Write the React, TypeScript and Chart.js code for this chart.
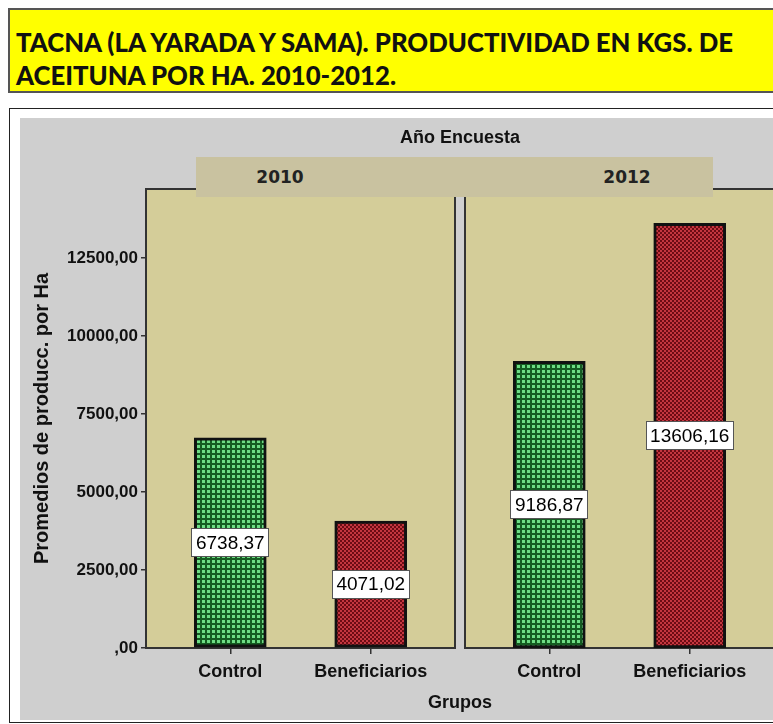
import React, { useEffect, useLayoutEffect, useRef } from 'react';
import { Chart, registerables } from 'chart.js';

Chart.register(...registerables);

// ---------------- data ----------------
const groups = ['Control', 'Beneficiarios'];
const years = ['2010', '2012'];
const values2010 = [6738.37, 4071.02];
const values2012 = [9186.87, 13606.16];
const yTicks = [0, 2500, 5000, 7500, 10000, 12500];
const yMax = 14710;
const titleLines = ['TACNA (LA YARADA Y SAMA). PRODUCTIVIDAD EN KGS. DE', 'ACEITUNA POR HA. 2010-2012.'];
const facetTitle = 'Año Encuesta';
const xTitle = 'Grupos';
const yTitle = 'Promedios de producc. por Ha';

// ---------------- styles ----------------
const PANEL_FILL = '#d4cd99';
const STRIP_FILL = '#c9c2a0';
const BG_GRAY = '#cfcfcf';
const AXIS_COLOR = '#333333';
const SANS = '"Liberation Sans", Arial, sans-serif';

const fmt = (v: number) => (v === 0 ? ',00' : v.toFixed(2).replace('.', ','));

function greenPattern(size: number, line: number) {
  const c = document.createElement('canvas');
  c.width = size;
  c.height = size;
  const g = c.getContext('2d')!;
  g.fillStyle = '#6edc84';
  g.fillRect(0, 0, size, size);
  g.fillStyle = '#155c22';
  g.fillRect(0, 0, size, line);
  g.fillRect(0, 0, line, size);
  return g.createPattern(c, 'repeat')!;
}

function redPattern() {
  const c = document.createElement('canvas');
  c.width = 4;
  c.height = 4;
  const g = c.getContext('2d')!;
  g.fillStyle = '#6c0c14';
  g.fillRect(0, 0, 4, 4);
  g.fillStyle = '#c4363f';
  g.fillRect(0, 0, 2, 2);
  g.fillRect(2, 2, 2, 2);
  return g.createPattern(c, 'repeat')!;
}

const panelPlugin = {
  id: 'panelBg',
  beforeDraw(chart: any) {
    const { ctx, chartArea: a } = chart;
    ctx.save();
    ctx.fillStyle = PANEL_FILL;
    ctx.fillRect(a.left, a.top, a.right - a.left, a.bottom - a.top);
    ctx.restore();
  },
  beforeDatasetsDraw(chart: any) {
    const { ctx, chartArea: a } = chart;
    ctx.save();
    ctx.strokeStyle = AXIS_COLOR;
    ctx.lineWidth = 2;
    ctx.strokeRect(a.left, a.top, a.right - a.left, a.bottom - a.top);
    ctx.restore();
  },
};

const valueBoxPlugin = {
  id: 'valueBoxes',
  afterDatasetsDraw(chart: any) {
    const { ctx } = chart;
    const meta = chart.getDatasetMeta(0);
    const data = chart.data.datasets[0].data as { x: number; y: number }[];
    ctx.save();
    ctx.font = `19px ${SANS}`;
    ctx.textAlign = 'center';
    ctx.textBaseline = 'middle';
    meta.data.forEach((el: any, i: number) => {
      const { x, y, base } = el.getProps(['x', 'y', 'base'], true);
      const cy = (y + base) / 2;
      const text = fmt(data[i].y);
      const w = Math.round(ctx.measureText(text).width + 9);
      const h = 29;
      const lx = Math.round(x - w / 2);
      const ty = Math.round(cy - h / 2);
      ctx.fillStyle = '#ffffff';
      ctx.fillRect(lx, ty, w, h);
      ctx.strokeStyle = '#555555';
      ctx.lineWidth = 1;
      ctx.strokeRect(lx + 0.5, ty + 0.5, w - 1, h - 1);
      ctx.fillStyle = '#000000';
      ctx.fillText(text, x, cy + 1);
    });
    ctx.restore();
  },
};

function makeConfig(values: number[], showY: boolean, gridSize: number, gridLine: number): any {
  return {
    type: 'bar',
    data: {
      datasets: [
        {
          data: values.map((v, i) => ({ x: i, y: v })),
          backgroundColor: [greenPattern(gridSize, gridLine), redPattern()],
          borderColor: '#111111',
          borderWidth: 3,
          borderSkipped: false,
          barThickness: 72,
        },
      ],
    },
    options: {
      responsive: false,
      animation: false,
      layout: { padding: { top: 71, right: showY ? 5 : 6, left: showY ? 0 : 5, bottom: 0 } },
      plugins: { legend: { display: false }, tooltip: { enabled: false }, title: { display: false } },
      scales: {
        x: {
          type: 'linear',
          offset: false,
          min: -0.6,
          max: 1.6,
          afterBuildTicks: (s: any) => {
            s.ticks = groups.map((_, i) => ({ value: i }));
          },
          afterFit: (s: any) => {
            s.height = 72;
          },
          ticks: {
            callback: (v: any) => groups[v] ?? '',
            font: { family: SANS, size: 18, weight: 'bold' },
            color: '#111111',
            padding: 7,
            maxRotation: 0,
            autoSkip: false,
          },
          grid: { display: true, offset: false, drawOnChartArea: false, drawTicks: true, tickLength: 6, color: AXIS_COLOR, lineWidth: 1.5 },
          border: { display: false },
        },
        y: {
          display: showY,
          min: 0,
          max: yMax,
          afterBuildTicks: (s: any) => {
            s.ticks = yTicks.map((v) => ({ value: v }));
          },
          afterFit: (s: any) => {
            if (showY) s.width = 126;
          },
          ticks: {
            callback: (v: any) => fmt(Number(v)),
            font: { family: SANS, size: 17, weight: 'bold' },
            color: '#111111',
            padding: 3,
          },
          grid: { display: true, drawOnChartArea: false, drawTicks: true, tickLength: 5, color: AXIS_COLOR, lineWidth: 1.5 },
          border: { display: false },
          title: {
            display: true,
            text: yTitle,
            font: { family: SANS, size: 20, weight: 'bold' },
            color: '#111111',
            padding: { top: 10, bottom: 0 },
          },
        },
      },
    },
    plugins: [panelPlugin, valueBoxPlugin],
  };
}

function Panel({ values, showY, left, width, gridSize, gridLine }: any) {
  const ref = useRef<HTMLCanvasElement>(null);
  useEffect(() => {
    const chart = new Chart(ref.current!, makeConfig(values, showY, gridSize, gridLine));
    return () => chart.destroy();
  }, []);
  return (
    <canvas
      ref={ref}
      width={width}
      height={602}
      style={{ position: 'absolute', left, top: 118, width, height: 602 }}
    />
  );
}

export default function App() {
  const l1 = useRef<HTMLSpanElement>(null);
  const l2 = useRef<HTMLSpanElement>(null);
  useLayoutEffect(() => {
    if (!l1.current || !l2.current) return;
    const w = l1.current.getBoundingClientRect().width;
    const k = 717 / w;
    l1.current.style.transform = `scaleX(${k})`;
    l2.current.style.transform = `scaleX(${k})`;
  }, []);

  const titleSpan: React.CSSProperties = {
    display: 'inline-block',
    whiteSpace: 'nowrap',
    transformOrigin: 'left center',
  };
  const txt: React.CSSProperties = {
    position: 'absolute',
    fontFamily: SANS,
    fontWeight: 'bold',
    fontSize: 18,
    color: '#111',
    whiteSpace: 'nowrap',
    lineHeight: '22px',
    transform: 'translate(-50%, -50%)',
  };
  const stripTxt: React.CSSProperties = {
    ...txt,
    fontFamily: '"DejaVu Sans", sans-serif',
    fontSize: 17,
    color: '#222',
  };

  return (
    <div
      style={{
        position: 'fixed',
        left: 0,
        top: 0,
        width: 773,
        height: 724,
        overflow: 'hidden',
        background: '#ffffff',
      }}
    >
      {/* Title box */}
      <div
        style={{
          position: 'absolute',
          left: 8,
          top: 8,
          width: 800,
          height: 85,
          boxSizing: 'border-box',
          background: '#ffff00',
          border: '2px solid #555555',
        }}
      />
      <div
        style={{
          position: 'absolute',
          left: 16,
          top: 26,
          fontFamily: 'Lato, "Open Sans", sans-serif',
          fontWeight: 900,
          fontSize: 26,
          lineHeight: '33px',
          color: '#111',
        }}
      >
        <div><span ref={l1} style={titleSpan}>{titleLines[0]}</span></div>
        <div><span ref={l2} style={titleSpan}>{titleLines[1]}</span></div>
      </div>

      {/* chart frame */}
      <div
        style={{
          position: 'absolute',
          left: 9,
          top: 108,
          width: 800,
          height: 615,
          boxSizing: 'border-box',
          border: '1.5px solid #222',
          background: '#ffffff',
        }}
      />
      <div style={{ position: 'absolute', left: 20, top: 118, width: 790, height: 602, background: BG_GRAY }} />

      <Panel values={values2010} showY={true} left={20} width={440} gridSize={5} gridLine={2} />
      <Panel values={values2012} showY={false} left={460} width={320} gridSize={5} gridLine={2} />

      {/* facet strip */}
      <div style={{ position: 'absolute', left: 196, top: 157, width: 517, height: 40, background: STRIP_FILL }} />
      <div style={{ ...stripTxt, left: 280, top: 177 }}>{years[0]}</div>
      <div style={{ ...stripTxt, left: 627, top: 177 }}>{years[1]}</div>

      <div style={{ ...txt, left: 460, top: 137 }}>{facetTitle}</div>
      <div style={{ ...txt, left: 460, top: 702 }}>{xTitle}</div>
    </div>
  );
}
